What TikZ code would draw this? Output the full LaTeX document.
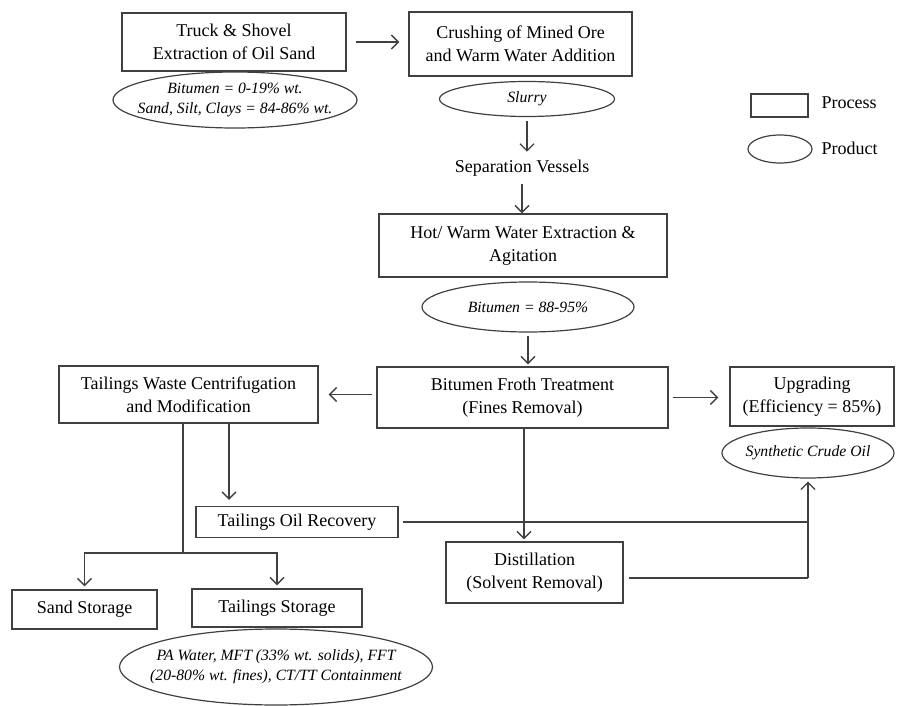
\documentclass[tikz,border=0pt]{standalone}
\usepackage{fontspec}
\setmainfont{Liberation Serif}
\usetikzlibrary{shapes.geometric, arrows.meta, positioning, calc}
\definecolor{edgegray}{gray}{0.25}

\begin{document}
\begin{tikzpicture}[x=1pt, y=-1pt,
        process/.style={draw=edgegray, line width=1.4pt, rectangle, align=center,
            inner sep=0pt, font=\fontsize{18}{23}\selectfont},
        product/.style={draw=edgegray, line width=1.2pt, ellipse, align=center,
            inner sep=0pt, font=\fontsize{15.7}{20}\selectfont\itshape},
        flow/.style={draw=edgegray, line width=1.4pt},
        arr/.style={flow, -{Straight Barb[length=7pt, width=14pt, line width=1.3pt]}}]
            \useasboundingbox (0,0) rectangle (897,706);

            % top row
            \node[process, minimum width=224pt, minimum height=58pt] (truck) at (234,42)
                {Truck \& Shovel\\Extraction of Oil Sand};
            \node[product, inner xsep=-15pt, minimum width=244pt, minimum height=56pt] (ore) at (235,100)
                {Bitumen = 0-19\% wt.\\Sand, Silt, Clays = 84-86\% wt.};
            \node[process, minimum width=223pt, minimum height=64pt] (crush) at (520.5,44)
                {Crushing of Mined Ore\\and Warm Water Addition};
            \node[product, minimum width=175pt, minimum height=35pt] (slurry) at (527,99)
                {Slurry};

            % legend
            \node[process, minimum width=57pt, minimum height=23pt] (keybox) at (779.5,105.5) {};
            \node[anchor=west, font=\fontsize{18}{23}\selectfont] (keyproc) at (818,103) {Process};
            \node[product, minimum width=64pt, minimum height=28pt] (keyell) at (780,149) {};
            \node[anchor=west, font=\fontsize{18}{23}\selectfont] (keyprod) at (818,148) {Product};

            % middle column
            \node[font=\fontsize{18}{23}\selectfont, inner sep=8pt] (sep) at (522,168)
                {Separation Vessels};
            \node[process, minimum width=288pt, minimum height=63pt] (hot) at (523,245.5)
                {Hot/ Warm Water Extraction \&\\Agitation};
            \node[product, minimum width=212pt, minimum height=50pt] (bit) at (528,307)
                {Bitumen = 88-95\%};
            \node[process, minimum width=291pt, minimum height=61pt] (froth) at (522.5,397.5)
                {Bitumen Froth Treatment\\(Fines Removal)};
            \node[process, minimum width=259pt, minimum height=57pt] (tails) at (188.5,394.5)
                {Tailings Waste Centrifugation\\and Modification};
            \node[process, minimum width=164pt, minimum height=59pt] (upg) at (812,396.5)
                {Upgrading\\(Efficiency = 85\%)};
            \node[product, inner xsep=-4pt, minimum width=172pt, minimum height=50pt] (sco) at (808,453)
                {Synthetic Crude Oil};

            % bottom part
            \node[process, minimum width=202pt, minimum height=31pt] (recov) at (297,522)
                {Tailings Oil Recovery};
            \node[process, minimum width=177pt, minimum height=61pt] (dist) at (534.5,572.5)
                {Distillation\\(Solvent Removal)};
            \node[process, minimum width=145pt, minimum height=39pt] (sand) at (84.5,609.5)
                {Sand Storage};
            \node[process, minimum width=170pt, minimum height=38pt] (tstor) at (277,608)
                {Tailings Storage};
            \node[product, inner xsep=-22pt, minimum width=313pt, minimum height=76pt] (pond) at (276,667)
                {PA Water, MFT (33\% wt. solids), FFT\\(20-80\% wt. fines), CT/TT Containment};

            \coordinate (split) at (183,553);
            \coordinate (jrec) at (sco.south |- recov.east);
            \coordinate (dout) at ([yshift=-5.5pt]dist.east);
            \coordinate (jdist) at (sco.south |- dout);

            % connectors
            \draw[arr, shorten <=9pt, shorten >=9pt] (truck.east) -- (truck.east -| crush.west);
            \draw[arr, shorten <=4pt] (slurry.south) -- (slurry.south |- sep.north);
            \draw[arr] (sep.south) -- (sep.south |- hot.north);
            \draw[arr, shorten <=3pt, shorten >=2pt] (bit.south) -- (bit.south |- froth.north);
            \draw[arr, shorten <=4pt, shorten >=10pt] (tails.east -| froth.west) -- (tails.east);
            \draw[arr, shorten <=4pt, shorten >=11pt] (froth.east) -- (froth.east -| upg.west);
            \draw[arr, shorten >=6pt] ([xshift=40.5pt]tails.south) -- ([xshift=40.5pt]tails.south |- recov.north);
            \draw[flow] ([xshift=-5.5pt]tails.south) -- (split);
            \draw[arr, shorten >=3pt] (split) -| (sand.north);
            \draw[arr, shorten >=3pt] (split) -| (tstor.north);
            \draw[arr, shorten >=2pt] ([xshift=1.5pt]froth.south) -- ([xshift=1.5pt]froth.south |- dist.north);
            \draw[flow, shorten <=4pt] (recov.east) -- (jrec);
            \draw[flow, shorten <=5pt] (dout) -- (jdist);
            \draw[arr, line width=1.8pt, shorten >=3pt] (jdist) -- (sco.south);

        \end{tikzpicture}
\end{document}
